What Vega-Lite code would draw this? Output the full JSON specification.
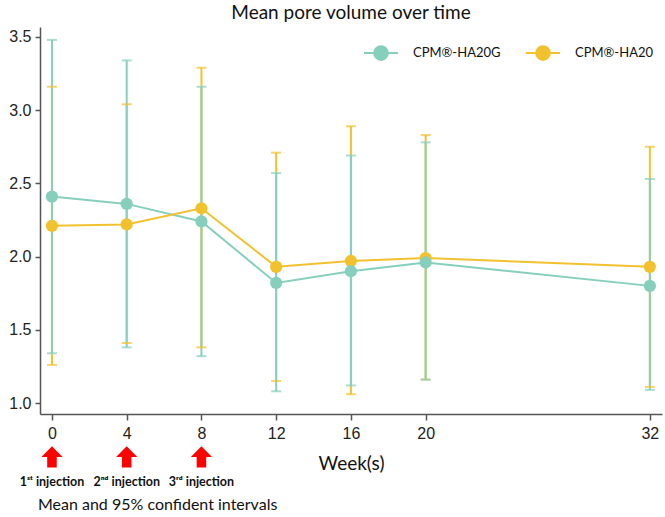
{
  "$schema": "https://vega.github.io/schema/vega-lite/v6.json",
  "width": 622,
  "height": 387,
  "autosize": {"type": "none"},
  "padding": {"left": 40, "top": 27, "right": 3, "bottom": 103},
  "background": "white",
  "title": {
    "text": "Mean pore volume over time",
    "font": "Lato",
    "fontSize": 19,
    "fontWeight": "normal",
    "color": "#111",
    "offset": 4,
    "anchor": "middle"
  },
  "datasets": {
    "pore": [
      {"week": 0, "group": "CPM®-HA20G", "mean": 2.41, "lo": 1.34, "hi": 3.48},
      {"week": 4, "group": "CPM®-HA20G", "mean": 2.36, "lo": 1.38, "hi": 3.34},
      {"week": 8, "group": "CPM®-HA20G", "mean": 2.24, "lo": 1.32, "hi": 3.16},
      {"week": 12, "group": "CPM®-HA20G", "mean": 1.82, "lo": 1.08, "hi": 2.57},
      {"week": 16, "group": "CPM®-HA20G", "mean": 1.9, "lo": 1.12, "hi": 2.69},
      {"week": 20, "group": "CPM®-HA20G", "mean": 1.96, "lo": 1.16, "hi": 2.78},
      {"week": 32, "group": "CPM®-HA20G", "mean": 1.8, "lo": 1.09, "hi": 2.53},
      {"week": 0, "group": "CPM®-HA20", "mean": 2.21, "lo": 1.26, "hi": 3.16},
      {"week": 4, "group": "CPM®-HA20", "mean": 2.22, "lo": 1.41, "hi": 3.04},
      {"week": 8, "group": "CPM®-HA20", "mean": 2.33, "lo": 1.38, "hi": 3.29},
      {"week": 12, "group": "CPM®-HA20", "mean": 1.93, "lo": 1.15, "hi": 2.71},
      {"week": 16, "group": "CPM®-HA20", "mean": 1.97, "lo": 1.06, "hi": 2.89},
      {"week": 20, "group": "CPM®-HA20", "mean": 1.99, "lo": 1.16, "hi": 2.83},
      {"week": 32, "group": "CPM®-HA20", "mean": 1.93, "lo": 1.11, "hi": 2.75}
    ],
    "shots": [
      {"week": 0, "label": "1ˢᵗ injection"},
      {"week": 4, "label": "2ⁿᵈ injection"},
      {"week": 8, "label": "3ʳᵈ injection"}
    ],
    "note": [
      {"week": -0.75, "label": "Mean and 95% confident intervals"}
    ]
  },
  "layer": [
    {
      "data": {"name": "pore"},
      "transform": [{"calculate": "datum.group == 'CPM®-HA20' ? 0 : 1", "as": "ord"}],
      "layer": [
        {
          "mark": {"type": "rule", "strokeWidth": 2},
          "encoding": {
            "y": {"field": "lo"},
            "y2": {"field": "hi"}
          }
        },
        {
          "mark": {"type": "tick", "orient": "horizontal", "size": 10, "thickness": 2},
          "encoding": {"y": {"field": "lo"}}
        },
        {
          "mark": {"type": "tick", "orient": "horizontal", "size": 10, "thickness": 2},
          "encoding": {"y": {"field": "hi"}}
        },
        {
          "mark": {"type": "line", "strokeWidth": 2},
          "encoding": {"y": {"field": "mean"}}
        },
        {
          "mark": {"type": "point", "filled": true, "opacity": 1, "size": 150},
          "encoding": {"y": {"field": "mean"}}
        }
      ],
      "encoding": {
        "x": {
          "field": "week",
          "type": "quantitative",
          "scale": {"domain": [-0.64, 32.65], "nice": false, "zero": false},
          "axis": {
            "values": [0, 4, 8, 12, 16, 20, 32],
            "title": "Week(s)",
            "grid": false,
            "domainColor": "#555",
            "domainWidth": 1.5,
            "tickColor": "#555",
            "tickWidth": 1.5,
            "tickSize": 6,
            "labelPadding": 5,
            "labelFont": "Liberation Sans",
            "labelFontSize": 16,
            "labelColor": "#222",
            "titleFont": "Lato",
            "titleFontSize": 19,
            "titleFontWeight": "normal",
            "titleColor": "#111",
            "titlePadding": 13
          }
        },
        "y": {
          "type": "quantitative",
          "scale": {"domain": [0.925, 3.568], "nice": false, "zero": false},
          "axis": {
            "values": [1, 1.5, 2, 2.5, 3, 3.5],
            "format": ".1f",
            "title": null,
            "grid": false,
            "domainColor": "#555",
            "domainWidth": 1.5,
            "tickColor": "#555",
            "tickWidth": 1.5,
            "tickSize": 5,
            "labelPadding": 4,
            "labelFont": "Liberation Sans",
            "labelFontSize": 16,
            "labelColor": "#222"
          }
        },
        "color": {
          "field": "group",
          "type": "nominal",
          "scale": {
            "domain": ["CPM®-HA20G", "CPM®-HA20"],
            "range": ["#86cfbd", "#f2c12e"]
          },
          "legend": {
            "title": null,
            "orient": "none",
            "legendX": 323,
            "legendY": 8,
            "direction": "horizontal",
            "symbolType": "M-1,0H1M0.4,0A0.4,0.4,0,1,1,-0.4,0A0.4,0.4,0,1,1,0.4,0Z",
            "symbolSize": 1156,
            "symbolStrokeWidth": 2,
            "symbolOpacity": 1,
            "labelFont": "Lato",
            "labelFontSize": 13,
            "labelColor": "#111",
            "labelOffset": 14,
            "columnPadding": 21
          }
        },
        "order": {"field": "ord"}
      }
    },
    {
      "data": {"name": "shots"},
      "layer": [
        {
          "mark": {
            "type": "point",
            "shape": "M0,-1L1,0L0.45,0L0.45,1L-0.45,1L-0.45,0L-1,0Z",
            "filled": true,
            "color": "#ff0000",
            "opacity": 1,
            "size": 450
          },
          "encoding": {
            "x": {"field": "week", "type": "quantitative"},
            "y": {"datum": 0.632}
          }
        },
        {
          "mark": {"type": "text", "font": "Lato", "fontSize": 12.5, "fontWeight": "bold", "color": "#111"},
          "encoding": {
            "x": {"field": "week", "type": "quantitative"},
            "y": {"datum": 0.461},
            "text": {"field": "label"}
          }
        }
      ]
    },
    {
      "data": {"name": "note"},
      "mark": {"type": "text", "align": "left", "font": "Lato", "fontSize": 16, "color": "#111"},
      "encoding": {
        "x": {"field": "week", "type": "quantitative"},
        "y": {"datum": 0.305},
        "text": {"field": "label"}
      }
    }
  ],
  "config": {
    "view": {"stroke": null}
  }
}
